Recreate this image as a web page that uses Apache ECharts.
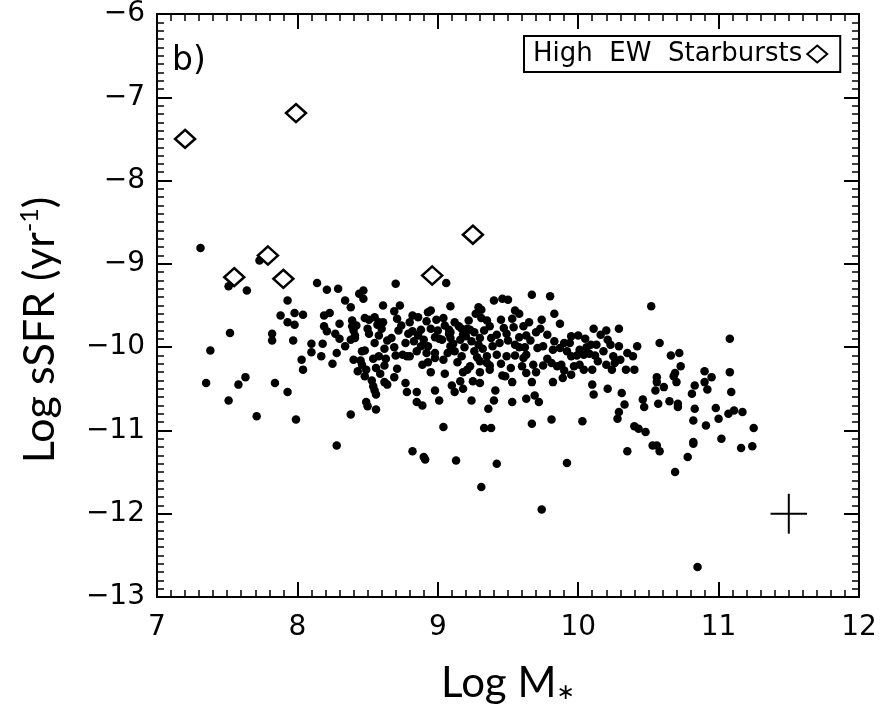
<!DOCTYPE html>
<html>
<head>
<meta charset="utf-8">
<script src="https://cdn.jsdelivr.net/npm/echarts@6/dist/echarts.min.js"></script>
<style>html,body{margin:0;padding:0;background:#fff}#c{width:889px;height:709px}</style>
</head>
<body>
<div id="c"></div>
<script>
// Galaxies (filled dots): [Log M*, Log sSFR]
const galaxies = [
[8.28,-11.18],[8.82,-11.25],[8.90,-11.32],[8.91,-11.35],[9.13,-11.36],[9.31,-11.68],[9.42,-11.40],[9.74,-11.95],[9.92,-11.39],[10.35,-11.25],[10.53,-11.18],[10.56,-11.18],[10.58,-11.25],[10.69,-11.50],[10.78,-11.32],[10.82,-11.16],[10.82,-11.14],[10.85,-12.64],[11.02,-11.10],[11.16,-11.21],[11.24,-11.19],
[7.31,-8.81],[7.73,-8.96],[7.51,-9.27],[7.64,-9.32],[8.14,-9.23],[8.21,-9.31],[8.29,-9.30],[8.44,-9.36],[8.47,-9.32],[8.47,-9.42],[8.70,-9.24],[7.93,-9.44],[8.34,-9.44],[8.38,-9.52],[8.61,-9.50],[7.88,-9.62],[7.98,-9.59],[8.04,-9.61],[7.93,-9.70],[7.98,-9.73],[8.19,-9.62],[8.23,-9.59],[8.39,-9.68],[8.48,-9.65],[8.51,-9.67],[8.55,-9.64],[8.58,-9.70],[8.61,-9.70],[8.69,-9.57],[8.71,-9.66],[7.52,-9.83],[7.82,-9.84],[7.82,-9.92],[7.97,-9.92],[8.19,-9.75],[8.21,-9.81],[8.27,-9.84],[8.30,-9.90],[8.39,-9.75],[8.40,-9.80],[8.41,-9.86],[8.38,-9.91],[8.41,-9.89],[8.42,-9.74],[8.50,-9.78],[8.51,-9.84],[8.57,-9.73],[8.60,-9.78],[8.58,-9.86],[8.67,-9.89],[8.69,-10.00],[8.10,-9.96],[8.18,-9.96],[8.10,-10.06],[8.17,-10.11],[8.34,-9.99],[8.28,-10.07],[8.40,-10.15],[8.46,-10.05],[8.45,-10.16],[8.48,-10.04],[8.46,-10.21],[8.43,-10.29],[8.49,-10.27],[8.54,-10.14],[8.58,-10.11],[8.63,-10.14],[8.56,-10.25],[8.59,-10.32],[8.69,-10.36],[8.71,-10.26],[8.70,-10.10],[8.03,-10.15],[8.04,-10.27],[7.38,-10.04],[7.35,-10.43],[7.58,-10.45],[7.63,-10.36],[7.51,-10.64],[7.84,-10.43],[7.93,-10.54],[7.71,-10.83],[7.99,-10.87],[8.38,-10.81],[8.53,-10.40],[8.54,-10.47],[8.55,-10.52],[8.56,-10.57],[8.49,-10.66],[8.50,-10.71],[8.56,-10.75],[8.62,-10.42],[8.64,-10.45],
[9.06,-9.23],[8.73,-9.50],[9.09,-9.51],[8.95,-9.56],[8.93,-9.58],[8.82,-9.62],[8.86,-9.64],[8.74,-9.74],[8.92,-9.69],[8.99,-9.67],[9.04,-9.65],[8.88,-9.79],[8.79,-9.84],[8.82,-9.81],[9.08,-9.84],[9.08,-9.79],[9.09,-9.82],[8.98,-9.88],[9.01,-9.90],[9.15,-9.75],[9.17,-9.78],[9.21,-9.78],[9.23,-9.79],[9.26,-9.82],[9.29,-9.52],[9.31,-9.55],[9.31,-9.65],[9.35,-9.68],[9.37,-9.75],[9.40,-9.44],[9.46,-9.42],[9.50,-9.43],[9.55,-9.56],[9.67,-9.37],[9.80,-9.39],[9.45,-9.67],[9.53,-9.66],[9.74,-9.67],[9.73,-9.78],[9.87,-9.72],[10.11,-9.78],[10.29,-9.78],[9.47,-9.77],[9.49,-9.84],[9.54,-9.76],[9.61,-9.75],[9.63,-9.86],[9.38,-9.89],[9.39,-9.99],[9.30,-9.89],[9.29,-9.97],[9.16,-9.91],[9.20,-9.87],[9.24,-9.93],[9.09,-9.89],[9.11,-9.96],[9.03,-9.91],[8.90,-9.91],[8.93,-9.99],[8.77,-9.95],[8.83,-9.93],[8.75,-10.09],[8.78,-10.11],[8.80,-10.11],[8.88,-9.99],[8.92,-10.07],[8.98,-10.07],[8.89,-10.21],[8.93,-10.18],[8.98,-10.13],[9.04,-10.15],[9.07,-10.07],[9.09,-9.99],[9.14,-10.18],[9.17,-10.11],[9.21,-10.27],[9.23,-10.23],[9.28,-10.12],[9.30,-10.17],[9.35,-10.11],[9.35,-10.19],[9.42,-10.09],[9.49,-10.11],[9.37,-10.27],[9.37,-10.22],[9.55,-9.97],[9.55,-10.10],[9.58,-10.00],[9.62,-10.00],[9.63,-10.09],[9.71,-10.01],[9.75,-9.99],[9.61,-10.13],[9.60,-10.23],[9.63,-10.31],[9.68,-10.21],[9.78,-10.14],[9.82,-10.03],[9.87,-10.01],[9.90,-9.95],[9.94,-9.95],[9.95,-9.87],[10.00,-9.86],[9.81,-10.19],[9.85,-10.23],[9.88,-10.21],[9.95,-10.11],[9.97,-10.23],[10.01,-10.03],[10.04,-10.09],[10.08,-10.08],[10.09,-9.97],[10.13,-9.97],[10.16,-9.85],[10.21,-9.91],[10.23,-9.97],[10.01,-10.21],[10.04,-10.27],[10.10,-10.27],[10.14,-10.17],[10.20,-10.21],[10.24,-10.27],[10.26,-10.19],[10.25,-10.11],[10.29,-9.99],[10.35,-10.07],[10.34,-10.27],[8.77,-10.43],[8.78,-10.54],[8.85,-10.54],[8.85,-10.66],[8.89,-10.70],[8.98,-10.52],[9.01,-10.64],[9.10,-10.46],[9.12,-10.54],[9.16,-10.41],[9.18,-10.50],[9.24,-10.64],[9.25,-10.41],[9.30,-10.43],[9.41,-10.52],[9.40,-10.64],[9.36,-10.74],[9.46,-10.34],[9.53,-10.42],[9.53,-10.66],[9.67,-10.42],[9.63,-10.62],[9.69,-10.58],[9.72,-10.66],[9.82,-10.42],[9.89,-10.37],[9.95,-10.33],[10.10,-10.45],[10.11,-10.57],[10.21,-10.50],[10.31,-10.55],[10.33,-10.69],[10.29,-10.78],[10.28,-10.86],[9.04,-10.96],[9.33,-10.97],[9.38,-10.97],[9.67,-10.92],[9.81,-10.87],[10.03,-10.89],
[10.52,-9.51],[10.58,-9.95],[11.08,-9.90],[10.42,-9.99],[10.39,-10.11],[10.40,-10.27],[10.66,-10.10],[10.72,-10.07],[10.73,-10.23],[10.69,-10.31],[10.68,-10.35],[10.70,-10.42],[10.56,-10.36],[10.56,-10.42],[10.55,-10.52],[10.61,-10.48],[10.90,-10.29],[10.90,-10.42],[10.95,-10.36],[10.92,-10.51],[11.08,-10.30],[10.83,-10.46],[10.81,-10.56],[11.09,-10.54],[10.46,-10.63],[10.47,-10.72],[10.57,-10.68],[10.65,-10.65],[10.71,-10.68],[10.71,-10.72],[10.83,-10.74],[10.98,-10.73],[11.07,-10.80],[11.11,-10.76],[11.17,-10.78],[10.82,-10.88],[11.00,-10.86],[10.91,-10.94],[11.25,-10.97],[10.40,-10.95],[10.43,-10.98],[10.48,-11.02],
[8.80,-9.70],[8.86,-9.86],[8.95,-9.78],[9.00,-9.80],[9.05,-9.74],[9.12,-9.70],[9.18,-9.85],[9.22,-9.68],[9.27,-9.60],[9.33,-9.80],[9.42,-9.85],[9.44,-9.95],[9.50,-9.92],[9.58,-9.88],[9.66,-9.92],[9.70,-9.82],[9.78,-9.85],[9.83,-9.93],[9.92,-10.05],[9.99,-10.10],[10.06,-10.00],[10.12,-10.10],[10.18,-10.05],[10.30,-10.15],[10.20,-9.80],[9.12,-10.05],[9.19,-10.00],[9.26,-10.05],[9.32,-10.02],[9.45,-10.20],[9.52,-10.25],[9.70,-10.30],[9.75,-10.22],[9.90,-10.28],[8.85,-10.05],[8.95,-10.30],[9.05,-10.32],[9.18,-10.30],[9.30,-10.30],[8.72,-9.80],[8.64,-9.92],[8.62,-10.02],[8.55,-9.95],[8.48,-10.35],[8.62,-10.22],[8.30,-9.72],[8.25,-10.20],[9.58,-9.60],[9.65,-9.70],[9.83,-9.60],[10.05,-9.90],[9.48,-10.35]
];
// High EW starbursts (open diamonds)
const starbursts = [[7.20,-7.50],[7.99,-7.19],[7.79,-8.90],[7.55,-9.16],[7.90,-9.18],[8.96,-9.14],[9.25,-8.65]];
// Typical error bar: centre and half-widths
const errCenter = [11.5, -12];
const errHalf = [0.13, 0.24];
const xTicks = {min: 7, max: 12, step: 1};
const yTicks = {min: -13, max: -6, step: 1};

const chart = echarts.init(document.getElementById('c'), null, {renderer: 'canvas'});
const FONT = 'DejaVu Sans';
const minus = v => (v < 0 ? '\u2212' : '') + Math.abs(v);
const axisCommon = {
  axisLine: {show: true, onZero: false, lineStyle: {color: '#000', width: 2}},
  axisTick: {show: true, inside: true, length: 15, lineStyle: {color: '#000', width: 2}},
  minorTick: {show: true, splitNumber: 10, length: 7, lineStyle: {color: '#000', width: 1.5}},
  splitLine: {show: false}
};
const xBase = Object.assign({type: 'value', min: xTicks.min, max: xTicks.max, interval: xTicks.step}, axisCommon);
const yBase = Object.assign({type: 'value', min: yTicks.min, max: yTicks.max, interval: yTicks.step}, axisCommon);

const option = {
  backgroundColor: '#fff',
  animation: false,
  grid: {left: 157, right: 30, top: 13, bottom: 110},
  xAxis: [
    Object.assign({}, xBase, {
      position: 'bottom',
      axisLabel: {color: '#000', fontFamily: FONT, fontSize: 28, margin: 17},
      name: 'Log M{s|\u2217}', nameLocation: 'middle', nameGap: 65,
      nameTextStyle: {color: '#000', fontFamily: 'Lato', fontSize: 42,
        rich: {s: {fontFamily: 'DejaVu Sans', fontSize: 22, verticalAlign: 'bottom'}}}
    }),
    Object.assign({}, xBase, {position: 'top', axisLabel: {show: false}})
  ],
  yAxis: [
    Object.assign({}, yBase, {
      position: 'left',
      axisLabel: {color: '#000', fontFamily: FONT, fontSize: 28, margin: 12, formatter: minus}
    }),
    Object.assign({}, yBase, {position: 'right', axisLabel: {show: false}})
  ],
  legend: {
    show: true, left: 524, top: 36, align: 'right', orient: 'horizontal',
    borderColor: '#000', borderWidth: 2, borderRadius: 0, padding: [5, 12, 5, 9],
    itemWidth: 20, itemHeight: 17,
    textStyle: {color: '#000', fontFamily: FONT, fontSize: 26},
    data: [{name: 'High  EW  Starbursts', icon: 'diamond'}]
  },
  graphic: [
    {type: 'text', left: 172, top: 45, style: {text: 'b)', font: '33px "DejaVu Sans"', fill: '#000'}},
    {type: 'text', x: 40, y: 330, rotation: Math.PI / 2,
      style: {text: 'Log sSFR (yr{sup|-1})', fontFamily: 'Lato', fontSize: 43, fill: '#000',
        align: 'center', verticalAlign: 'middle',
        rich: {sup: {fontFamily: 'Lato', fontSize: 25, fill: '#000', verticalAlign: 'bottom', padding: [0, 0, 20, 0]}}}}
  ],
  series: [
    {
      type: 'scatter', name: 'galaxies', xAxisIndex: 0, yAxisIndex: 0,
      data: galaxies, symbol: 'circle', symbolSize: 8.5,
      itemStyle: {color: '#000', opacity: 1}, silent: true, z: 2
    },
    {
      type: 'scatter', name: 'High  EW  Starbursts', xAxisIndex: 0, yAxisIndex: 0,
      data: starbursts, symbol: 'diamond', symbolSize: [20, 18],
      itemStyle: {color: '#fff', borderColor: '#000', borderWidth: 2.5, opacity: 1}, z: 3
    },
    {
      type: 'line', name: 'errx', xAxisIndex: 0, yAxisIndex: 0, showSymbol: false, symbol: 'none',
      data: [[errCenter[0] - errHalf[0], errCenter[1]], [errCenter[0] + errHalf[0], errCenter[1]]],
      lineStyle: {color: '#000', width: 2}
    },
    {
      type: 'line', name: 'erry', xAxisIndex: 0, yAxisIndex: 0, showSymbol: false, symbol: 'none',
      data: [[errCenter[0], errCenter[1] - errHalf[1]], [errCenter[0], errCenter[1] + errHalf[1]]],
      lineStyle: {color: '#000', width: 2}
    }
  ]
};
chart.setOption(option);
</script>
</body>
</html>
